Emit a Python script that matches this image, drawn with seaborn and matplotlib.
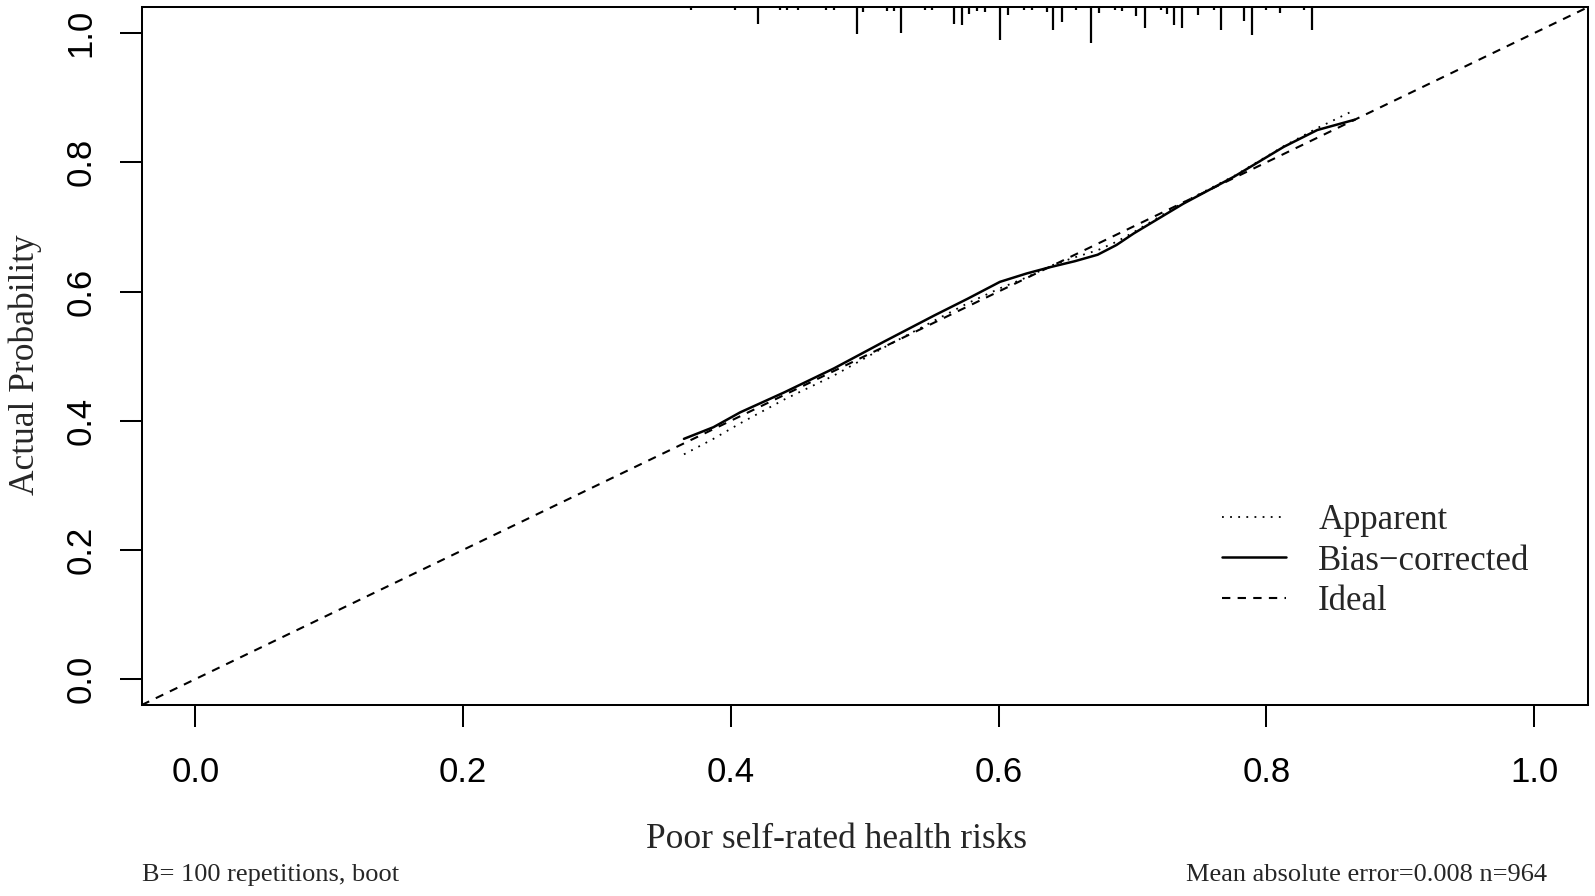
import numpy as np
import pandas as pd
import matplotlib
matplotlib.use("Agg")
import matplotlib.pyplot as plt
import seaborn as sns

# calibration curves
pred = [0.365, 0.387, 0.407, 0.440, 0.477, 0.514, 0.552, 0.577, 0.601,
        0.621, 0.639, 0.657, 0.674, 0.688, 0.701, 0.738, 0.776, 0.813, 0.838, 0.866]
apparent = [0.348, 0.372, 0.396, 0.433, 0.470, 0.513, 0.555, 0.582, 0.605,
            0.622, 0.640, 0.653, 0.664, 0.677, 0.692, 0.738, 0.779, 0.825, 0.853, 0.881]
bias_corrected = [0.372, 0.390, 0.413, 0.444, 0.481, 0.522, 0.563, 0.589, 0.615,
                  0.628, 0.638, 0.647, 0.657, 0.672, 0.690, 0.736, 0.778, 0.824, 0.850, 0.866]
ideal_x = [0.0, 1.0]

# rug of predicted values at the top (position, relative tick length)
rug_x = [0.370, 0.403, 0.420, 0.437, 0.442, 0.450, 0.471, 0.477, 0.494, 0.499,
         0.517, 0.522, 0.527, 0.545, 0.550, 0.567, 0.573, 0.578, 0.584, 0.590,
         0.601, 0.607, 0.619, 0.625, 0.636, 0.641, 0.647, 0.658, 0.669, 0.675,
         0.687, 0.692, 0.703, 0.709, 0.721, 0.726, 0.731, 0.737, 0.749, 0.761,
         0.766, 0.783, 0.789, 0.800, 0.810, 0.828, 0.834]
rug_h = [0.0047, 0.0047, 0.0253, 0.0047, 0.0047, 0.0047, 0.0036, 0.0047, 0.0408, 0.0073,
         0.0057, 0.0057, 0.0392, 0.0036, 0.0036, 0.0253, 0.0279, 0.0098, 0.0057, 0.0073,
         0.0512, 0.0124, 0.0047, 0.0047, 0.0073, 0.0346, 0.0228, 0.0036, 0.0553, 0.0088,
         0.0036, 0.0057, 0.0140, 0.0320, 0.0036, 0.0098, 0.0279, 0.0315, 0.0124, 0.0047,
         0.0346, 0.0212, 0.0434, 0.0036, 0.0088, 0.0036, 0.0357]

ticks = [0.0, 0.2, 0.4, 0.6, 0.8, 1.0]

sns.set_style("ticks")
plt.rcParams["font.family"] = ["Liberation Serif", "DejaVu Serif"]

W, H = 1595, 896
fig = plt.figure(figsize=(W / 100, H / 100), dpi=100)
ax = fig.add_axes([141.7 / W, 1 - 705 / H, 1446 / W, 697.7 / H])

curves = pd.DataFrame({"pred": pred, "apparent": apparent, "bias": bias_corrected})
sns.lineplot(data=curves, x="pred", y="apparent", ax=ax, color="black",
             lw=1.3, linestyle=(0, (1, 3.5)), label="Apparent")
sns.lineplot(data=curves, x="pred", y="bias", ax=ax, color="black",
             lw=1.8, label="Bias\u2212corrected")
ax.axline((ideal_x[0], ideal_x[0]), (ideal_x[1], ideal_x[1]), color="black",
          lw=1.5, linestyle=(0, (4, 3.5)), label="Ideal")

ax.set_xlim(-0.04, 1.04)
ax.set_ylim(-0.04, 1.04)
ymax = ax.get_ylim()[1]
ax.vlines(rug_x, ymax - np.array(rug_h), ymax, color="black", lw=1.6)

ax.set_xticks(ticks)
ax.set_yticks(ticks)
ax.set_xticklabels([f"{t:.1f}" for t in ticks], fontfamily="Liberation Sans", fontsize=25)
ax.set_yticklabels([f"{t:.1f}" for t in ticks], fontfamily="Liberation Sans", fontsize=25,
                   rotation=90, va="center")
ax.tick_params(axis="both", direction="out", length=15.8, width=1.45, color="black",
               labelcolor="black")
ax.tick_params(axis="x", pad=21)
ax.tick_params(axis="y", pad=16)
for sp in ax.spines.values():
    sp.set_visible(True)
    sp.set_color("black")
    sp.set_linewidth(1.45)
ax.set_xlabel("")
ax.set_ylabel("")

fig.text(836 / W, 1 - 848 / H, "Poor self-rated health risks", fontsize=25.5,
         ha="center", va="baseline")
fig.text(25 / W, 1 - 365 / H, "Actual Probability", fontsize=25.5,
         rotation=90, ha="center", va="center")
fig.text(141.7 / W, 1 - 881 / H, "B= 100 repetitions, boot", fontsize=19,
         ha="left", va="baseline")
fig.text(1546.7 / W, 1 - 881 / H, "Mean absolute error=0.008 n=964", fontsize=19,
         ha="right", va="baseline")

ax.legend(loc="upper left", bbox_to_anchor=(1221.7 / W, 1 - 504 / H),
          bbox_transform=fig.transFigure, frameon=False, fontsize=25,
          handlelength=1.85, handletextpad=0.93, labelspacing=0.22,
          borderpad=0, borderaxespad=0)

fig.savefig("out.png", dpi=100)
